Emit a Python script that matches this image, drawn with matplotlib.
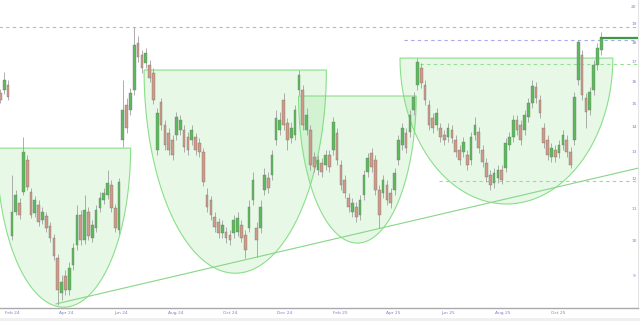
"""Candlestick chart with four cup-shaped bases, resistance dashes and a rising trendline.

Daily bars are summarised into ~3-session candles read off the reference picture.
Writes out.png (640x321).
"""

import matplotlib

matplotlib.use("Agg")
import matplotlib.dates as mdates
import matplotlib.pyplot as plt
import numpy as np
import pandas as pd
from matplotlib.colors import to_rgba
from matplotlib.ticker import NullLocator

# --- price data (one candle ~ 3 sessions) ---
FIRST_BAR = "2024-01-19"
LAST_BAR = "2025-11-18"

opens = [
    15.50, 15.64, 15.87, 10.14, 10.89, 11.18, 11.55, 12.71, 11.55, 10.85,
    11.12, 10.63, 10.76, 10.45, 10.08, 9.50, 8.56, 9.00, 8.64, 9.31,
    9.87, 10.79, 10.02, 10.89, 10.08, 10.38, 11.02, 11.28, 11.45, 11.80,
    11.02, 10.32, 13.48, 14.96, 14.74, 15.64, 17.98, 17.35, 16.94, 16.84,
    16.45, 13.09, 15.09, 14.09, 13.76, 13.48, 13.68, 13.89, 13.89, 13.60,
    13.48, 13.60, 13.36, 13.01, 11.45, 11.28, 10.72, 10.57, 10.23, 10.26,
    10.17, 10.23, 10.26, 10.48, 10.17, 10.38, 11.28, 10.38, 10.38, 11.62,
    12.04, 12.15, 13.48, 13.89, 15.18, 14.18, 13.56, 13.68, 15.64, 15.64,
    13.89, 13.89, 12.82, 12.33, 12.60, 12.52, 12.89, 13.09, 13.76, 12.52,
    11.97, 11.35, 10.89, 11.05, 10.79, 11.45, 12.26, 12.97, 12.71, 11.62,
    11.52, 11.80, 11.52, 11.62, 12.71, 13.28, 13.76, 13.80, 14.74, 15.87,
    16.69, 15.87, 14.96, 14.39, 14.09, 13.97, 13.68, 13.60, 13.89, 13.48,
    13.09, 13.01, 12.89, 12.71, 13.68, 13.80, 13.09, 12.60, 12.15, 11.87,
    12.04, 12.33, 12.41, 13.28, 13.60, 14.31, 14.09, 13.89, 14.44, 15.05,
    15.78, 15.18, 13.97, 13.48, 12.82, 13.09, 12.97, 13.28, 13.48, 13.01,
    13.48, 16.11, 17.35, 15.27, 14.74, 15.64, 16.84, 17.61,
]
highs = [
    15.69, 16.49, 16.11, 12.15, 11.62, 11.35, 13.60, 12.89, 11.69, 11.42,
    11.28, 11.05, 10.89, 10.57, 10.20, 9.62, 9.03, 9.17, 9.39, 9.93,
    11.12, 10.95, 11.45, 11.05, 10.63, 11.12, 11.55, 11.69, 12.33, 11.97,
    11.15, 12.04, 16.11, 15.27, 15.73, 18.85, 18.36, 17.61, 17.71, 17.09,
    16.69, 14.83, 15.27, 14.31, 13.97, 13.68, 14.65, 14.52, 14.09, 13.80,
    14.09, 13.76, 13.56, 13.16, 11.69, 11.42, 10.89, 10.69, 10.63, 10.42,
    10.32, 10.79, 10.89, 10.63, 10.32, 11.28, 12.26, 10.57, 11.28, 12.41,
    12.26, 13.09, 14.74, 14.65, 15.50, 14.39, 14.22, 14.96, 16.59, 15.87,
    14.83, 14.09, 13.01, 12.89, 12.78, 13.09, 13.09, 14.44, 13.97, 12.71,
    12.15, 11.52, 11.35, 11.22, 11.45, 12.33, 12.97, 13.16, 12.89, 11.80,
    12.15, 11.97, 11.69, 12.41, 13.68, 14.18, 13.97, 14.74, 15.55, 17.19,
    16.94, 16.11, 15.18, 14.61, 14.83, 14.18, 13.89, 14.18, 14.09, 13.68,
    13.28, 13.60, 13.09, 13.80, 14.44, 14.01, 13.28, 12.78, 12.33, 12.41,
    12.52, 12.52, 13.56, 13.80, 14.52, 14.52, 14.31, 14.74, 15.27, 16.11,
    16.01, 15.41, 14.18, 13.68, 13.36, 13.28, 13.48, 13.89, 13.68, 13.20,
    15.55, 18.14, 17.61, 15.50, 15.78, 17.09, 17.98, 18.57,
]
lows = [
    15.05, 15.46, 15.18, 10.02, 10.79, 10.66, 11.45, 11.62, 10.69, 10.72,
    10.45, 10.51, 10.26, 9.96, 9.44, 8.26, 8.39, 8.51, 8.51, 9.17,
    9.73, 9.87, 9.90, 10.02, 9.96, 10.26, 10.89, 11.15, 11.31, 10.89,
    10.26, 10.20, 13.20, 13.76, 14.52, 15.41, 16.99, 16.45, 16.69, 16.01,
    15.00, 12.89, 13.89, 13.09, 12.89, 12.71, 13.48, 13.68, 13.01, 12.89,
    13.28, 12.89, 12.82, 11.76, 10.89, 10.63, 10.26, 10.08, 10.08, 9.93,
    9.87, 10.08, 10.14, 9.96, 9.50, 10.26, 11.12, 9.53, 10.23, 11.45,
    11.52, 11.97, 13.28, 13.68, 13.89, 13.09, 13.36, 13.48, 15.41, 13.89,
    13.68, 12.33, 12.26, 12.15, 12.08, 12.33, 12.26, 12.89, 12.52, 11.62,
    11.35, 10.89, 10.72, 10.57, 10.63, 11.28, 12.08, 12.26, 11.45, 10.38,
    11.35, 11.12, 11.02, 11.45, 12.52, 13.09, 12.97, 13.60, 14.52, 15.64,
    15.73, 14.96, 13.89, 13.76, 13.89, 13.40, 13.28, 13.40, 13.36, 12.82,
    12.52, 12.82, 12.33, 12.52, 13.48, 12.97, 12.45, 11.90, 11.62, 11.69,
    11.87, 11.83, 12.26, 13.09, 13.40, 13.68, 13.28, 13.68, 14.22, 14.83,
    15.05, 14.39, 13.16, 12.71, 12.63, 12.63, 12.78, 13.09, 12.82, 12.41,
    13.28, 15.87, 15.18, 13.97, 14.52, 15.41, 16.59, 17.35,
]
closes = [
    15.18, 16.11, 15.32, 10.89, 11.45, 10.79, 13.01, 11.73, 10.79, 11.28,
    10.57, 10.89, 10.38, 10.08, 9.56, 8.64, 8.85, 8.64, 9.22, 9.79,
    10.79, 10.02, 10.95, 10.14, 10.48, 10.95, 11.35, 11.52, 11.87, 11.02,
    10.38, 11.90, 14.74, 13.97, 15.50, 17.87, 17.25, 16.69, 17.45, 16.21,
    15.18, 14.61, 14.09, 13.28, 13.09, 12.89, 14.44, 14.31, 13.20, 13.09,
    13.89, 13.09, 13.01, 11.90, 11.05, 10.79, 10.42, 10.23, 10.48, 10.08,
    10.02, 10.63, 10.69, 10.08, 9.73, 11.05, 11.97, 10.02, 11.05, 12.15,
    11.69, 12.89, 14.39, 14.31, 14.09, 13.48, 13.97, 14.74, 16.35, 14.09,
    14.52, 12.52, 12.45, 12.71, 12.26, 12.89, 12.45, 14.22, 12.71, 11.80,
    11.52, 11.05, 11.18, 10.72, 11.28, 12.15, 12.78, 12.45, 11.62, 10.79,
    11.97, 11.28, 11.18, 12.22, 13.48, 13.97, 13.16, 14.52, 15.32, 16.99,
    15.97, 15.18, 14.09, 13.97, 14.61, 13.60, 13.48, 13.97, 13.56, 13.01,
    12.71, 13.40, 12.52, 13.60, 14.09, 13.16, 12.63, 12.08, 11.80, 12.22,
    12.33, 11.97, 13.36, 13.60, 14.31, 13.89, 13.48, 14.52, 15.05, 15.82,
    15.27, 14.61, 13.36, 12.89, 13.16, 12.82, 13.28, 13.68, 13.01, 12.52,
    15.32, 18.03, 15.41, 14.65, 15.55, 16.84, 17.71, 18.24,
]

# --- annotations ---
cup_left = ["2024-01-15", "2024-06-27", "2024-12-16", "2025-04-08"]
cup_right = ["2024-06-12", "2025-01-16", "2025-04-26", "2025-12-01"]
cup_top = [13.16, 16.59, 15.36, 17.19]
cup_bottom = [8.21, 9.08, 9.93, 11.15]

trend_dates = ["2024-03-21", "2025-12-29"]
trend_prices = [8.29, 12.40]

# (price, start date, colour)
level_prices = [18.85, 18.13, 16.89, 11.93]
level_starts = ["2024-01-18", "2025-04-12", "2025-04-30", "2025-05-21"]
level_colors = ["#f2a3a3", "#a9a9f2", "#93e093", "#93e093"]

y_levels = [20, 19, 18, 17, 16, 15, 14, 13, 12, 11, 10, 9]
x_tick_dates = [
    "2024-02-01", "2024-04-01", "2024-06-01", "2024-08-01", "2024-10-01",
    "2024-12-01", "2025-02-01", "2025-04-01", "2025-06-01", "2025-08-01",
    "2025-10-01",
]
X_START, X_END = "2024-01-18 14:00", "2025-12-29"
Y_MIN, Y_MAX = 8.19, 20.42

UP = "#5cba5c"
DOWN = "#cf9a86"
LABEL = "#8080d4"


def cup_outline(left, right, top, bottom, n=120):
    """Half-ellipse under a flat lid, in (date number, price)."""
    l, r = mdates.datestr2num(left), mdates.datestr2num(right)
    cx, a = (l + r) / 2, (r - l) / 2
    t = np.linspace(0, np.pi, n)
    xs = cx + a * np.cos(t)
    ys = np.exp(np.log(top) - (np.log(top) - np.log(bottom)) * np.sin(t))
    return xs, ys


def main():
    dates = mdates.date2num(pd.date_range(FIRST_BAR, LAST_BAR, periods=len(closes)))
    o, h, l, c = map(np.array, (opens, highs, lows, closes))
    step = dates[1] - dates[0]

    fig = plt.figure(figsize=(6.4, 3.21), dpi=100)
    fig.patch.set_facecolor("white")
    ax = fig.add_axes([0, 13 / 321, 638 / 640, 308 / 321])
    ax.set_yscale("log")
    ax.set_xlim(mdates.datestr2num(X_START), mdates.datestr2num(X_END))
    ax.set_ylim(Y_MIN, Y_MAX)

    # cups
    for left, right, top, bottom in zip(cup_left, cup_right, cup_top, cup_bottom):
        xs, ys = cup_outline(left, right, top, bottom)
        ax.fill(xs, ys, facecolor=to_rgba("#5fd35f", 0.15),
                edgecolor=to_rgba("#7fdc7f", 0.9), lw=0.8, zorder=1)

    # horizontal levels
    x_end = ax.get_xlim()[1]
    for price, start, col in zip(level_prices, level_starts, level_colors):
        ax.plot([mdates.datestr2num(start), x_end], [price, price], color=col,
                lw=0.8, dashes=(3, 3), zorder=2)

    # trendline
    ax.plot(mdates.datestr2num(trend_dates), trend_prices, color="#86d686",
            lw=0.8, zorder=3)

    # candles
    up = c >= o
    ax.vlines(dates, l, h, color="#a0a0a0", lw=0.6, zorder=4)
    body_lo = np.minimum(o, c)
    body_hi = np.maximum(o, c)
    ax.bar(dates, body_hi - body_lo, bottom=body_lo, width=step * 0.7,
           color=np.where(up, UP, DOWN), edgecolor="#707070", lw=0.25, zorder=5)

    # last-price extension
    ax.plot([dates[-1], x_end], [c[-1], c[-1]], color="#3d9b3d", lw=1.6, zorder=6)

    # axes dressing
    for side in ("top", "left"):
        ax.spines[side].set_visible(False)
    ax.spines["bottom"].set_color("#aaaaaa")
    ax.spines["bottom"].set_linewidth(1.0)
    ax.spines["right"].set_color("#e4e4e4")
    ax.spines["right"].set_linewidth(0.8)

    ax.yaxis.set_major_locator(NullLocator())
    ax.yaxis.set_minor_locator(NullLocator())
    for v in y_levels:
        ax.text(0.9935, v, str(v), transform=ax.get_yaxis_transform(),
                ha="center", va="center", fontsize=3.2, color=LABEL, zorder=7)

    ticks = mdates.datestr2num(x_tick_dates)
    ax.set_xticks(ticks)
    ax.set_xticklabels([pd.Timestamp(d).strftime("%b %y") for d in x_tick_dates])
    ax.xaxis.set_minor_locator(NullLocator())
    ax.tick_params(axis="x", length=0, pad=2.5, labelsize=3.2, labelcolor=LABEL)

    fig.add_artist(plt.Rectangle((0, 0), 1, 3 / 321, transform=fig.transFigure,
                                 color="#f0f0f0", lw=0))
    fig.savefig("out.png", dpi=100)


if __name__ == "__main__":
    main()
